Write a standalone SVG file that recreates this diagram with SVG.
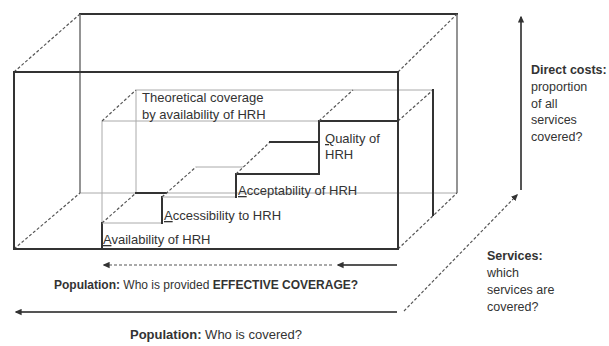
<svg xmlns="http://www.w3.org/2000/svg" width="609" height="346" viewBox="0 0 609 346">
<style>
.thick{stroke:#333;stroke-width:2;fill:none;stroke-linecap:square}
.med{stroke:#666;stroke-width:1.4;fill:none}
.thin{stroke:#aaa;stroke-width:1;fill:none}
.dash{stroke:#555;stroke-width:1.2;fill:none;stroke-dasharray:3 2}
.axis{stroke:#555;stroke-width:2;fill:none}
text{font-family:"Liberation Sans",Arial,sans-serif;fill:#333}
.lbl{font-size:13px}
.side{font-size:12.5px}
.b{font-weight:bold}
</style>
<defs>
<marker id="ah" viewBox="0 0 10 10" refX="8" refY="5" markerWidth="7" markerHeight="7" markerUnits="userSpaceOnUse" orient="auto">
<path d="M0,0.5 L10,5 L0,9.5 z" fill="#333"/>
</marker>
</defs>
<rect width="609" height="346" fill="#fff"/>

<g id="outer-box">
<line class="thin" x1="80" y1="193" x2="457" y2="193"/>
<line class="thick" x1="80" y1="14" x2="457" y2="14"/>
<line class="med" x1="80" y1="14" x2="80" y2="193"/>
<line class="med" x1="457" y1="14" x2="457" y2="193"/>
<line class="dash" x1="14" y1="72" x2="80" y2="14"/>
<line class="dash" x1="398" y1="72" x2="457" y2="14"/>
<line class="dash" x1="14" y1="249" x2="80" y2="193"/>
<line class="dash" x1="398" y1="249" x2="457" y2="193"/>
</g>

<g id="inner-box">
<line class="thin" x1="136" y1="90" x2="433" y2="90"/>
<line class="thin" x1="102" y1="121" x2="319" y2="121"/>
<line class="thin" x1="136" y1="90" x2="136" y2="193"/>
<line class="thin" x1="102" y1="121" x2="102" y2="223"/>
<line class="dash" x1="102" y1="121" x2="136" y2="90"/>
<line class="dash" x1="398" y1="121" x2="433" y2="90"/>
<line class="thick" x1="433" y1="90" x2="433" y2="215"/>
</g>

<g id="steps">
<line class="thick" x1="102" y1="223" x2="102" y2="249"/>
<line class="thin" x1="102" y1="223" x2="162" y2="223"/>
<line class="dash" x1="102" y1="223" x2="136" y2="193"/>
<line class="thick" x1="136" y1="193" x2="166" y2="193"/>
<line class="thick" x1="162" y1="197" x2="162" y2="223"/>
<line class="thin" x1="162" y1="197" x2="236" y2="197"/>
<line class="dash" x1="162" y1="197" x2="196" y2="167"/>
<line class="thin" x1="196" y1="167" x2="243" y2="167"/>
<line class="thick" x1="236" y1="174" x2="236" y2="197"/>
<line class="thick" x1="236" y1="174" x2="319" y2="174"/>
<line class="dash" x1="236" y1="174" x2="270" y2="142"/>
<line class="thick" x1="270" y1="142" x2="319" y2="142"/>
<line class="thick" x1="319" y1="121" x2="319" y2="174"/>
<line class="thick" x1="319" y1="121" x2="398" y2="121"/>
<line class="dash" x1="319" y1="121" x2="353" y2="90"/>
</g>

<g id="front-face">
<rect class="thick" x="14" y="72" width="384" height="177"/>
</g>

<g id="axes">
<line class="axis" x1="521" y1="190" x2="521" y2="17" marker-end="url(#ah)"/>
<line class="dash" x1="404" y1="311" x2="517" y2="195" marker-end="url(#ah)"/>
<line class="axis" stroke-width="2.5" x1="397" y1="312" x2="16" y2="312" marker-end="url(#ah)"/>
<line class="axis" x1="397" y1="265" x2="338" y2="265" marker-end="url(#ah)"/>
<line class="dash" x1="332" y1="265" x2="104" y2="265" marker-end="url(#ah)"/>
</g>

<g id="labels">
<text class="lbl" x="142" y="102">Theoretical coverage</text>
<text class="lbl" x="142" y="119">by availability of HRH</text>
<text class="lbl" x="103" y="244"><tspan text-decoration="underline">A</tspan>vailability of HRH</text>
<text class="lbl" x="164" y="220"><tspan text-decoration="underline">A</tspan>ccessibility to HRH</text>
<text class="lbl" x="238" y="195"><tspan text-decoration="underline">A</tspan>cceptability of HRH</text>
<text class="lbl" x="325" y="143"><tspan text-decoration="underline">Q</tspan>uality of</text>
<text class="lbl" x="325" y="159">HRH</text>
<text class="side b" x="531" y="74">Direct costs:</text>
<text class="side" x="531" y="91">proportion</text>
<text class="side" x="531" y="107.5">of all</text>
<text class="side" x="531" y="124">services</text>
<text class="side" x="531" y="141">covered?</text>
<text class="side b" x="487" y="260">Services:</text>
<text class="side" x="487" y="277">which</text>
<text class="side" x="487" y="294">services are</text>
<text class="side" x="487" y="310.5">covered?</text>
<text style="font-size:12px" x="54" y="289"><tspan class="b">Population:</tspan> Who is provided <tspan class="b">EFFECTIVE COVERAGE?</tspan></text>
<text class="lbl" x="130" y="339"><tspan class="b">Population:</tspan> Who is covered?</text>
</g>
</svg>
